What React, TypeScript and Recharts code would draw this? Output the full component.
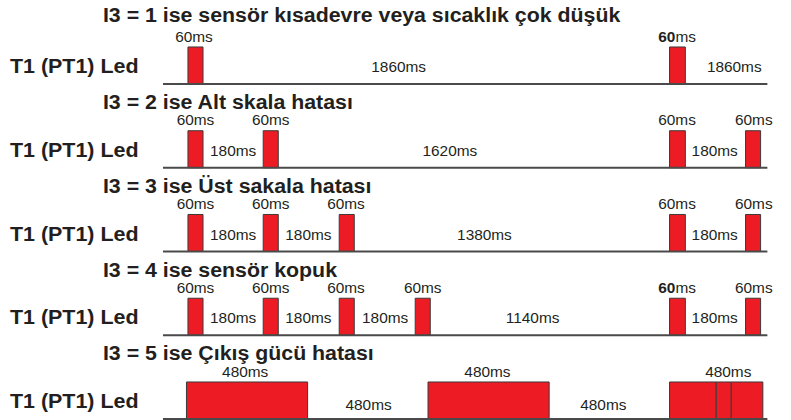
import React from 'react';
import { ComposedChart, XAxis, YAxis, ReferenceArea, ReferenceLine, Scatter } from 'recharts';

// Row titles and channel label
const ROW_TITLES = [
  'I3 = 1 ise sensör kısadevre veya sıcaklık çok düşük',
  'I3 = 2 ise Alt skala hatası',
  'I3 = 3 ise Üst sakala hatası',
  'I3 = 4 ise sensör kopuk',
  'I3 = 5 ise Çıkış gücü hatası',
];
const CHANNEL_LABEL = 'T1 (PT1) Led';

// LED pulses per row: [start, end] on a schematic time grid (slot units)
const PULSES_1 = [[0, 1], [32, 33.05]];
const PULSES_2 = [[0, 1], [5, 6], [32, 33.05], [37.05, 38.05]];
const PULSES_3 = [[0, 1], [5, 6], [10.05, 11.05], [32, 33.05], [37.05, 38.05]];
const PULSES_4 = [[0, 1], [5, 6], [10.05, 11.05], [15.1, 16.1], [32, 33.05], [37.05, 38.05]];
const PULSES_5 = [[-0.1, 7.95], [15.95, 24], [32, 35.1], [35.1, 36.1], [36.1, 38.2]];
const ROW_PULSES = [PULSES_1, PULSES_2, PULSES_3, PULSES_4, PULSES_5];

// Duration labels: above = pulse width label, gap = pause label
type Lbl = { x: number; text: string; kind: 'above' | 'gap'; bold?: string };
const LABELS_1: Lbl[] = [
  { x: 0.4, text: '60ms', kind: 'above' },
  { x: 14.0, text: '1860ms', kind: 'gap' },
  { x: 32.5, text: 'ms', bold: '60', kind: 'above' },
  { x: 36.3, text: '1860ms', kind: 'gap' },
];
const LABELS_2: Lbl[] = [
  { x: 0.5, text: '60ms', kind: 'above' },
  { x: 5.5, text: '60ms', kind: 'above' },
  { x: 3.0, text: '180ms', kind: 'gap' },
  { x: 17.4, text: '1620ms', kind: 'gap' },
  { x: 32.5, text: '60ms', kind: 'above' },
  { x: 37.6, text: '60ms', kind: 'above' },
  { x: 35.0, text: '180ms', kind: 'gap' },
];
const LABELS_3: Lbl[] = [
  { x: 0.5, text: '60ms', kind: 'above' },
  { x: 5.5, text: '60ms', kind: 'above' },
  { x: 10.5, text: '60ms', kind: 'above' },
  { x: 3.0, text: '180ms', kind: 'gap' },
  { x: 8.0, text: '180ms', kind: 'gap' },
  { x: 19.7, text: '1380ms', kind: 'gap' },
  { x: 32.5, text: '60ms', kind: 'above' },
  { x: 37.6, text: '60ms', kind: 'above' },
  { x: 35.0, text: '180ms', kind: 'gap' },
];
const LABELS_4: Lbl[] = [
  { x: 0.5, text: '60ms', kind: 'above' },
  { x: 5.5, text: '60ms', kind: 'above' },
  { x: 10.5, text: '60ms', kind: 'above' },
  { x: 15.6, text: '60ms', kind: 'above' },
  { x: 3.0, text: '180ms', kind: 'gap' },
  { x: 8.0, text: '180ms', kind: 'gap' },
  { x: 13.1, text: '180ms', kind: 'gap' },
  { x: 22.9, text: '1140ms', kind: 'gap' },
  { x: 32.5, text: 'ms', bold: '60', kind: 'above' },
  { x: 37.6, text: '60ms', kind: 'above' },
  { x: 35.0, text: '180ms', kind: 'gap' },
];
const LABELS_5: Lbl[] = [
  { x: 3.8, text: '480ms', kind: 'above' },
  { x: 19.9, text: '480ms', kind: 'above' },
  { x: 35.9, text: '480ms', kind: 'above' },
  { x: 12.0, text: '480ms', kind: 'gap' },
  { x: 27.6, text: '480ms', kind: 'gap' },
];
const ROW_LABELS = [LABELS_1, LABELS_2, LABELS_3, LABELS_4, LABELS_5];

// Layout constants (styling)
const W = 791;
const H = 420;
const X_DOMAIN: [number, number] = [-12.49, 40.07];
const Y_DOMAIN: [number, number] = [-1.003, 4.012];
const PULSE_H = 0.442;
const BASE_START = -1.66;
const BASE_END = 38.5;
const RED = '#ED1C24';
const FONT = '"Liberation Sans", Arial, sans-serif';
const SX = 1.1;

type TP = { x: number; y: number; text: string; bold?: string; style: 'title' | 'channel' | 'small' };

const textPoints: TP[] = [];
ROW_TITLES.forEach((t, r) => {
  textPoints.push({ x: -5.65, y: r - (r === 0 ? 0.82 : 0.78), text: t, style: 'title' });
  textPoints.push({ x: -11.83, y: r - 0.215, text: CHANNEL_LABEL, style: 'channel' });
  ROW_LABELS[r].forEach((l) => {
    const y = l.kind === 'above' ? r - PULSE_H - 0.12 : r - (r === 4 ? 0.17 : 0.2);
    textPoints.push({ x: l.x, y, text: l.text, bold: l.bold, style: 'small' });
  });
});

const renderText = (props: any) => {
  const { cx, cy, payload } = props;
  if (cx == null || cy == null) return <g />;
  const p = payload as TP;
  if (p.style === 'title') {
    return (
      <text transform={`translate(${cx},${cy}) scale(${SX},1)`} textAnchor="start" dominantBaseline="central"
        fontFamily={FONT} fontWeight="bold" fontSize={19.4} fill="#231F20">{p.text}</text>
    );
  }
  if (p.style === 'channel') {
    return (
      <text transform={`translate(${cx},${cy}) scale(${SX},1)`} textAnchor="start" dominantBaseline="central"
        fontFamily={FONT} fontWeight="bold" fontSize={19.5} fill="#231F20">{p.text}</text>
    );
  }
  return (
    <text transform={`translate(${cx},${cy}) scale(${SX},1)`} textAnchor="middle" dominantBaseline="central"
      fontFamily={FONT} fontSize={14} fill="#231F20">
      {p.bold ? <tspan fontWeight="bold">{p.bold}</tspan> : null}
      <tspan>{p.text}</tspan>
    </text>
  );
};

export default function App() {
  return (
    <div style={{ width: W, height: H, background: '#fff' }}>
      <style>{`body{margin:0;background:#fff}`}</style>
      <ComposedChart width={W} height={H} margin={{ top: 0, right: 0, bottom: 0, left: 0 }} data={textPoints}>
        <XAxis type="number" dataKey="x" domain={X_DOMAIN} hide allowDataOverflow />
        <YAxis type="number" dataKey="y" domain={Y_DOMAIN} hide reversed allowDataOverflow />
        {ROW_PULSES.map((row, r) =>
          row.map(([a, b], i) => (
            <ReferenceArea key={`p${r}-${i}`} x1={a} x2={b} y1={r - PULSE_H} y2={r}
              fill={RED} fillOpacity={1} stroke="#3a3a3a" strokeWidth={1} ifOverflow="visible" />
          ))
        )}
        {ROW_TITLES.map((_, r) => (
          <ReferenceLine key={`b${r}`} segment={[{ x: BASE_START, y: r }, { x: BASE_END, y: r }]}
            stroke="#4a4a4a" strokeWidth={2} ifOverflow="visible" />
        ))}
        <Scatter data={textPoints} dataKey="y" shape={renderText} isAnimationActive={false} />
      </ComposedChart>
    </div>
  );
}
